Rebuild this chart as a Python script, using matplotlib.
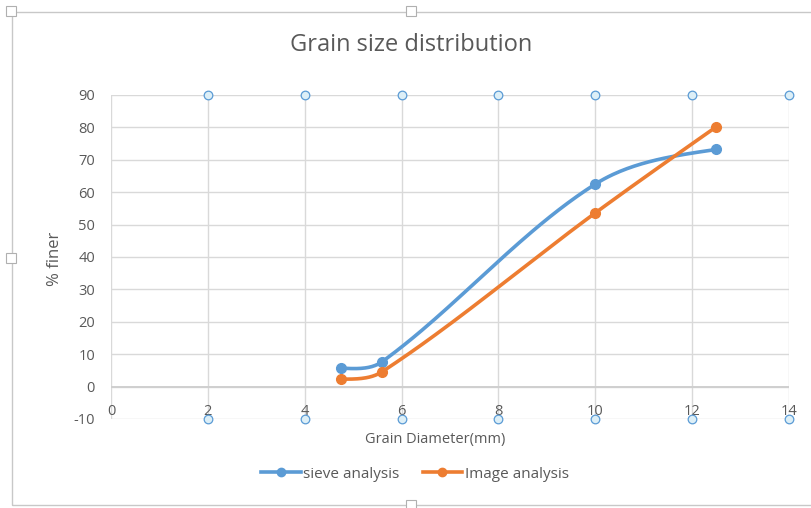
import numpy as np
import matplotlib
matplotlib.use("Agg")
import matplotlib.pyplot as plt
from matplotlib.patches import Rectangle

# ---- data ----
sieve_x = [4.75, 5.6, 10, 12.5]
sieve_y = [5.7, 7.7, 62.5, 73.2]
image_x = [4.75, 5.6, 10, 12.5]
image_y = [2.3, 4.6, 53.6, 80.2]
x_ticks = [0, 2, 4, 6, 8, 10, 12, 14]
y_ticks = [-10, 0, 10, 20, 30, 40, 50, 60, 70, 80, 90]
marker_x = [2, 4, 6, 8, 10, 12, 14]
marker_top = 90
marker_bottom = -10
title = "Grain size distribution"
xlabel = "Grain Diameter(mm)"
ylabel = "% finer"
labels = ["sieve analysis", "Image analysis"]

FONT = "Open Sans"
TXT = "#595959"
GRID = "#d9d9d9"
BLUE = "#5B9BD5"
ORANGE = "#ED7D31"

W, H = 811, 508
fig = plt.figure(figsize=(W / 100, H / 100), dpi=100)
ax = fig.add_axes([111 / W, (H - 419) / H, 678 / W, 324 / H])
ax.set_xlim(0, 14)
ax.set_ylim(-10, 90)

# scale for smoothing (pixels per unit)
sx, sy = 678 / 14, 324 / 100


def smooth(xs, ys, n=50, k=1.0):
    P = np.column_stack([np.array(xs) * sx, np.array(ys) * sy])
    m = len(P)
    L = [np.linalg.norm(P[i + 1] - P[i]) for i in range(m - 1)]
    out = []
    for i in range(m - 1):
        p1, p2 = P[i], P[i + 1]
        c1 = c2 = None
        if i > 0:
            T = P[i + 1] - P[i - 1]
            c1 = p1 + T * L[i] / (L[i - 1] + L[i]) / 3 * k
        if i + 2 < m:
            T = P[i + 2] - P[i]
            c2 = p2 - T * L[i] / (L[i] + L[i + 1]) / 3 * k
        if c1 is None and c2 is None:
            c1 = p1 + (p2 - p1) / 3
            c2 = p2 - (p2 - p1) / 3
        elif c1 is None:
            c1 = (p1 + c2) / 2
        elif c2 is None:
            c2 = (p2 + c1) / 2
        t = np.linspace(0, 1, n)[:, None]
        seg = ((1 - t) ** 3) * p1 + 3 * ((1 - t) ** 2) * t * c1 + 3 * (1 - t) * t ** 2 * c2 + t ** 3 * p2
        out.append(seg)
    out = np.vstack(out)
    return out[:, 0] / sx, out[:, 1] / sy


for xs, ys, c in [(sieve_x, sieve_y, BLUE), (image_x, image_y, ORANGE)]:
    cx, cy = smooth(xs, ys)
    ax.plot(cx, cy, color=c, lw=2.6, solid_capstyle="round", zorder=3)
    ax.plot(xs, ys, "o", color=c, ms=7, zorder=4)

# hollow markers along top and bottom
for yv in (marker_top, marker_bottom):
    ax.plot(marker_x, [yv] * len(marker_x), "o", ms=6.2, mfc="#DDEFF7", mec=BLUE,
            mew=0.9, ls="none", zorder=5, clip_on=False)

# grid
ax.set_xticks(x_ticks)
ax.set_yticks(y_ticks)
ax.grid(True, color=GRID, lw=1.0)
ax.set_axisbelow(True)
for s in ax.spines.values():
    s.set_visible(False)
ax.axvline(0, color=GRID, lw=1.2, zorder=1)
ax.axhline(0, color="#cfcfcf", lw=1.4, zorder=1)
ax.tick_params(axis="both", length=0)
ax.tick_params(axis="y", labelsize=10.5, labelcolor=TXT, pad=11.5)
ax.set_yticklabels([str(v) for v in y_ticks], fontfamily=FONT)
ax.set_xticklabels([])
for v in x_ticks:
    ax.text(v, -7.6, str(v), ha="center", va="center", fontsize=10.5, color=TXT,
            fontfamily=FONT, zorder=2)

fig.text(411 / W, 1 - 45 / H, title, ha="center", va="center", fontsize=17,
         color=TXT, fontfamily=FONT)
fig.text(435 / W, 1 - 440 / H, xlabel, ha="center", va="center", fontsize=10.5,
         color=TXT, fontfamily=FONT)
fig.text(55 / W, 1 - 259 / H, ylabel, ha="center", va="center", fontsize=12,
         color=TXT, fontfamily=FONT, rotation=90)

# legend
h1, = ax.plot([], [], "-o", color=BLUE, lw=2.6, ms=6)
h2, = ax.plot([], [], "-o", color=ORANGE, lw=2.6, ms=6)
leg = fig.legend([h1, h2], labels, loc="center", bbox_to_anchor=(415 / W, 1 - 474 / H),
                 ncol=2, frameon=False, handlelength=2.6, handletextpad=0.15,
                 columnspacing=1.5, prop={"family": FONT, "size": 11})
for t in leg.get_texts():
    t.set_color(TXT)

# chart frame + handles
fig.patches.append(Rectangle((12 / W, 1 - 505 / H), 805 / W, 493 / H, transform=fig.transFigure,
                             fill=False, ec="#c8c8c8", lw=1.0))
for (hx, hy) in [(11, 11), (411, 11), (11, 258), (411, 505)]:
    fig.patches.append(Rectangle(((hx - 5) / W, 1 - (hy + 5) / H), 10 / W, 10 / H,
                                 transform=fig.transFigure, fc="white", ec="#b0b0b0", lw=0.8))

fig.savefig("out.png", dpi=100, facecolor="white")
